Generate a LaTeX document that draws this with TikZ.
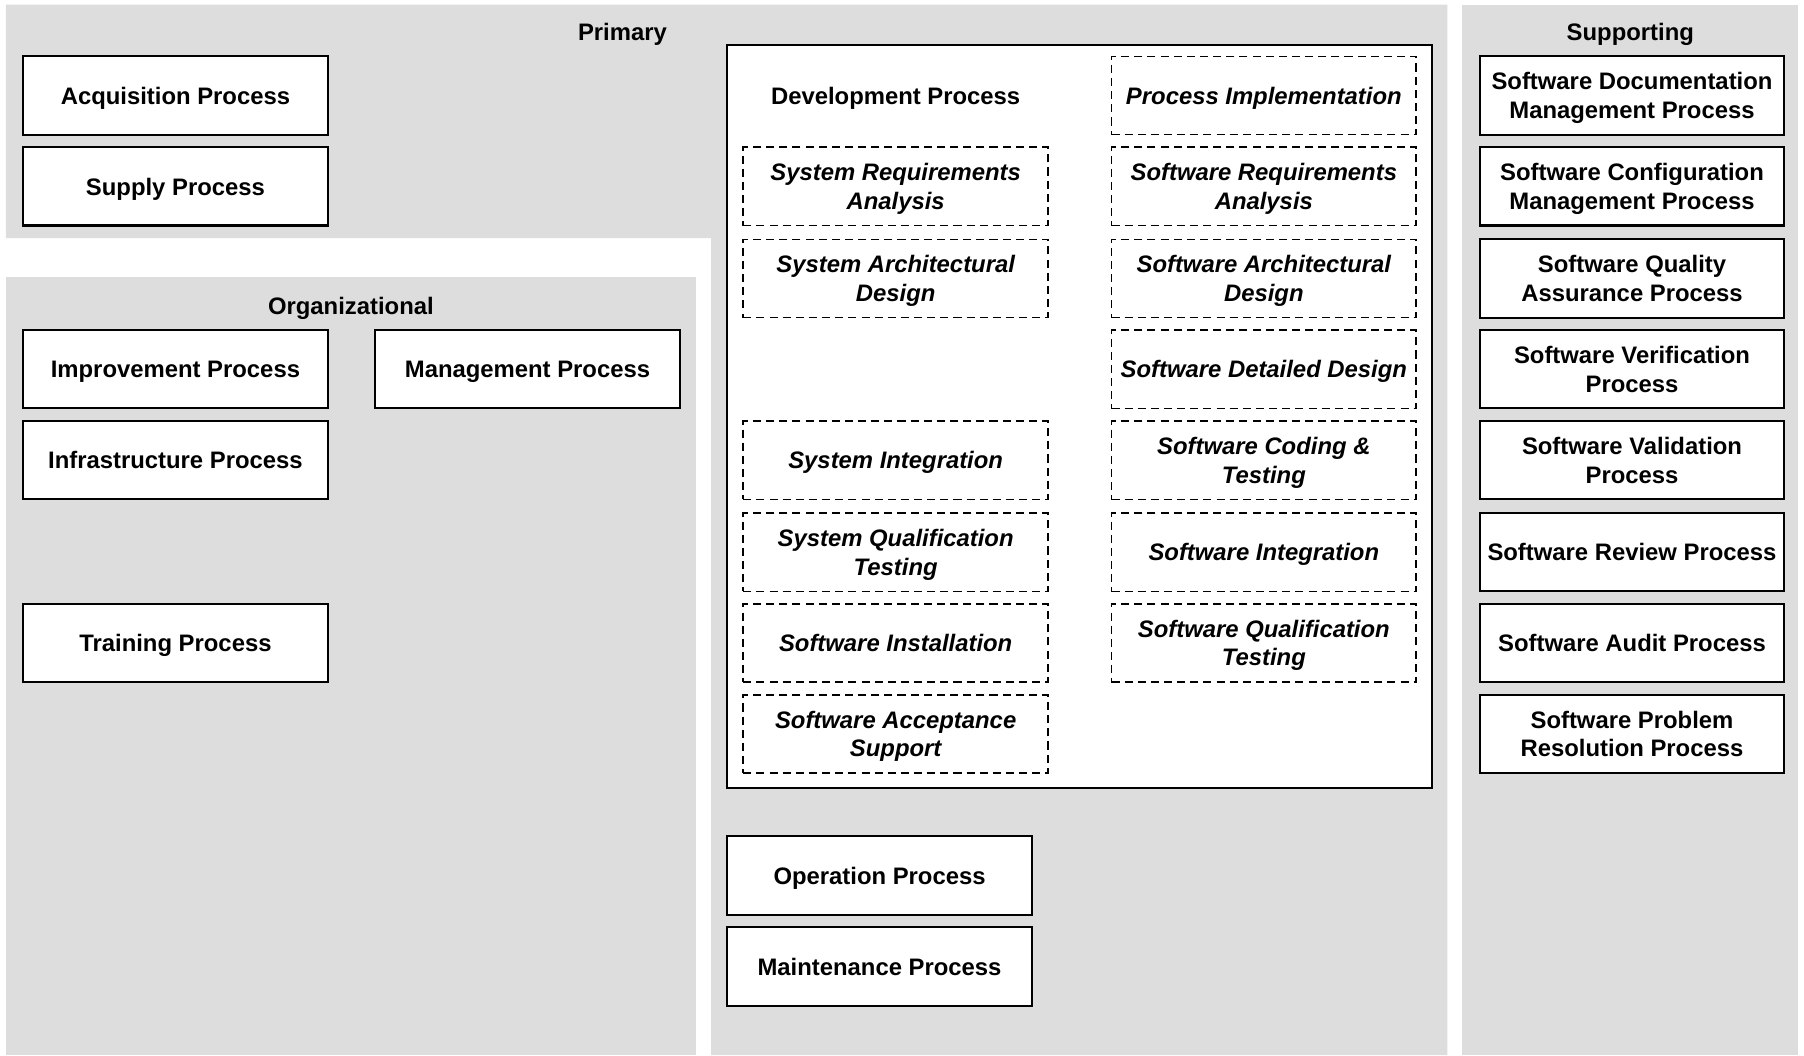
\documentclass[tikz,border=0pt]{standalone}
\usepackage{fontspec}
\setmainfont{Liberation Sans}
\definecolor{bggray}{RGB}{221,221,221}
\tikzset{
  proc/.style={draw,fill=white,line width=1pt,minimum width=5.3cm,minimum height=1.36cm,
    inner sep=0pt,text depth=0pt,align=center,font=\fontsize{11.8}{14}\selectfont\bfseries},
  act/.style={proc,line width=0.8pt,dash pattern=on 4pt off 2.5pt,
    font=\fontsize{11.8}{14}\selectfont\bfseries\itshape},
  grp/.style={text depth=0pt,font=\fontsize{11.8}{14}\selectfont\bfseries}
}
\begin{document}
\begin{tikzpicture}[x=0.02cm,y=-0.02cm]
  \useasboundingbox (0,0) rectangle (1568,917);
  % group backgrounds
  \fill[bggray] (5,4)--(1258,4)--(1258,917)--(618,917)--(618,207)--(5,207)--cycle;
  \fill[bggray] (5,241) rectangle (605,917);
  \fill[bggray] (1271,4) rectangle (1563,917);
  \node[grp] (primary) at (541,28) {Primary};
  \node[grp] (orga) at (305,266) {Organizational};
  \node[grp] (supp) at (1417,28) {Supporting};
  % primary
  \node[proc] (acq) at (152.5,83) {Acquisition Process};
  \node[proc] (sup) at (152.5,162) {Supply Process};
  \node[draw,fill=white,line width=1pt,minimum width=12.26cm,minimum height=12.92cm] (dev) at (938.5,362) {};
  \node[grp] (devt) at (778.5,83) {Development Process};
  \node[act] (sra) at (778.5,162) {System Requirements\\Analysis};
  \node[act] (sad) at (778.5,242) {System Architectural\\Design};
  \node[act] (si) at (778.5,400) {System Integration};
  \node[act] (sqt) at (778.5,480) {System Qualification\\Testing};
  \node[act] (swi) at (778.5,559) {Software Installation};
  \node[act] (sas) at (778.5,638) {Software Acceptance\\Support};
  \node[act] (pi) at (1098.5,83) {Process Implementation};
  \node[act] (swra) at (1098.5,162) {Software Requirements\\Analysis};
  \node[act] (swad) at (1098.5,242) {Software Architectural\\Design};
  \node[act] (swdd) at (1098.5,321) {Software Detailed Design};
  \node[act] (swct) at (1098.5,400) {Software Coding \&\\Testing};
  \node[act] (swint) at (1098.5,480) {Software Integration};
  \node[act] (swqt) at (1098.5,559) {Software Qualification\\Testing};
  \node[proc] (op) at (764.5,761) {Operation Process};
  \node[proc] (mnt) at (764.5,840) {Maintenance Process};
  % organizational
  \node[proc] (imp) at (152.5,321) {Improvement Process};
  \node[proc] (mgmt) at (458.5,321) {Management Process};
  \node[proc] (infra) at (152.5,400) {Infrastructure Process};
  \node[proc] (train) at (152.5,559) {Training Process};
  % supporting
  \node[proc] (doc) at (1418.5,83) {Software Documentation\\Management Process};
  \node[proc] (cfg) at (1418.5,162) {Software Configuration\\Management Process};
  \node[proc] (qa) at (1418.5,242) {Software Quality\\Assurance Process};
  \node[proc] (ver) at (1418.5,321) {Software Verification\\Process};
  \node[proc] (val) at (1418.5,400) {Software Validation\\Process};
  \node[proc] (rev) at (1418.5,480) {Software Review Process};
  \node[proc] (aud) at (1418.5,559) {Software Audit Process};
  \node[proc] (prb) at (1418.5,638) {Software Problem\\Resolution Process};
\end{tikzpicture}
\end{document}
